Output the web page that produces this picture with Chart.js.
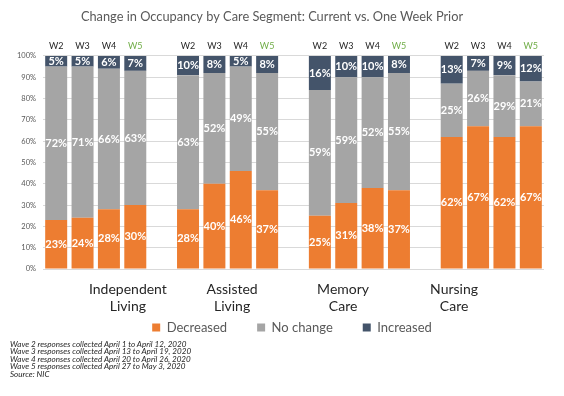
<!DOCTYPE html>
<html>
<head>
<meta charset="utf-8">
<script src="https://cdn.jsdelivr.net/npm/chart.js@4"></script>
<style>
  html, body { margin: 0; padding: 0; background: #fff; }
  #wrap { position: relative; width: 564px; height: 396px; }
  #notes {
    position: absolute; left: 10px; top: 341px;
    font: italic 8.1px Lato, sans-serif; line-height: 7.4px; color: #262626;
  }
</style>
</head>
<body>
<div id="wrap">
  <canvas id="myChart" width="564" height="396"></canvas>
  <div id="notes">
    Wave 2 responses collected April 1 to April 12, 2020<br>
    Wave 3 responses collected April 13 to April 19, 2020<br>
    Wave 4 responses collected April 20 to April 26, 2020<br>
    Wave 5 responses collected April 27 to May 3, 2020<br>
    Source: NIC
  </div>
</div>
<script>
const waves = ['W2', 'W3', 'W4', 'W5']
const segments = [['Independent', 'Living'], ['Assisted', 'Living'], ['Memory', 'Care'], ['Nursing', 'Care']]
// where the segment names sit, in bar slots (they are not centred on the groups)
const segmentLabelSlots = [2.72, 6.67, 10.88, 15.09]

const decreased = [[23, 24, 28, 30], [28, 40, 46, 37], [25, 31, 38, 37], [62, 67, 62, 67]]
const noChange = [[72, 71, 66, 63], [63, 52, 49, 55], [59, 59, 52, 55], [25, 26, 29, 21]]
const increased = [[5, 5, 6, 7], [10, 8, 5, 8], [16, 10, 10, 8], [13, 7, 9, 12]]

// one empty slot between the groups
function spread(groups) {
  const out = []
  groups.forEach((g, i) => {
    if (i > 0) out.push(null)
    out.push(...g)
  })
  return out
}

const slotLabels = spread(segments.map(() => waves)).map(l => l || '')

const ctx = document.getElementById('myChart').getContext('2d')

const barLabels = {
  id: 'barLabels',
  afterDatasetsDraw(chart) {
    const c = chart.ctx
    c.save()
    c.fillStyle = '#ffffff'
    c.font = 'bold 11px Lato, sans-serif'
    c.textAlign = 'center'
    c.textBaseline = 'middle'
    chart.data.datasets.forEach((ds, di) => {
      chart.getDatasetMeta(di).data.forEach((bar, i) => {
        const v = ds.data[i]
        if (v == null) return
        const top = Math.max(bar.y, chart.chartArea.top)
        c.fillText(v + '%', bar.x, (top + bar.base) / 2)
      })
    })
    c.restore()
  }
}

// the legend sits a little right of centre and tucks up under the segment names
const legendShift = {
  id: 'legendShift',
  afterLayout(chart) {
    const l = chart.legend
    l.left += 20
    l.right += 20
    l.top -= 24
    l.bottom -= 24
  }
}

const data = {
  labels: slotLabels,
  datasets: [
    { label: 'Decreased', data: spread(decreased), backgroundColor: '#ED7D31' },
    { label: 'No change', data: spread(noChange), backgroundColor: '#A5A5A5' },
    { label: 'Increased', data: spread(increased), backgroundColor: '#44546A' }
  ]
}

const config = {
  type: 'bar',
  data: data,
  plugins: [barLabels, legendShift],
  options: {
    responsive: false,
    animation: false,
    layout: { padding: { left: 0, right: 20, top: 0, bottom: 28 } },
    datasets: {
      bar: { barPercentage: 0.834, categoryPercentage: 1, borderWidth: 0 }
    },
    plugins: {
      title: {
        display: true,
        text: 'Change in Occupancy by Care Segment: Current vs. One Week Prior',
        color: '#595959',
        font: { family: 'Lato', size: 12.8, weight: 'normal' },
        padding: { top: 9, bottom: 9 }
      },
      legend: {
        position: 'bottom',
        labels: {
          boxWidth: 8,
          boxHeight: 8,
          padding: 30,
          color: '#595959',
          font: { family: 'Lato', size: 13 }
        }
      },
      tooltip: { enabled: false }
    },
    scales: {
      x: {
        stacked: true,
        position: 'top',
        grid: { display: false, drawTicks: false },
        border: { display: false },
        ticks: {
          autoSkip: false,
          maxRotation: 0,
          padding: 4,
          font: { family: 'Lato', size: 9 },
          color: c => (slotLabels[c.index] === 'W5' ? '#70AD47' : '#262626')
        },
        afterFit: s => { s.height = 22.6 }
      },
      x2: {
        type: 'linear',
        position: 'bottom',
        offset: false,
        min: -0.5,
        max: 18.5,
        grid: { display: false, drawTicks: false },
        border: { display: false },
        afterBuildTicks: s => { s.ticks = segmentLabelSlots.map(v => ({ value: v })) },
        ticks: {
          autoSkip: false,
          maxRotation: 0,
          padding: 12,
          color: '#262626',
          font: { family: 'Lato', size: 14 },
          callback: (v, i) => segments[i]
        },
        afterFit: s => { s.height = 46 }
      },
      y: {
        stacked: true,
        min: 0,
        max: 100,
        grid: { color: '#D9D9D9', drawTicks: false },
        border: { display: false },
        ticks: {
          stepSize: 10,
          padding: 7,
          color: '#595959',
          font: { family: 'Lato', size: 7.5 },
          callback: v => v + '%'
        },
        afterFit: s => { s.width = 43 }
      }
    }
  }
}

const myChart = new Chart(ctx, config)
</script>
</body>
</html>
